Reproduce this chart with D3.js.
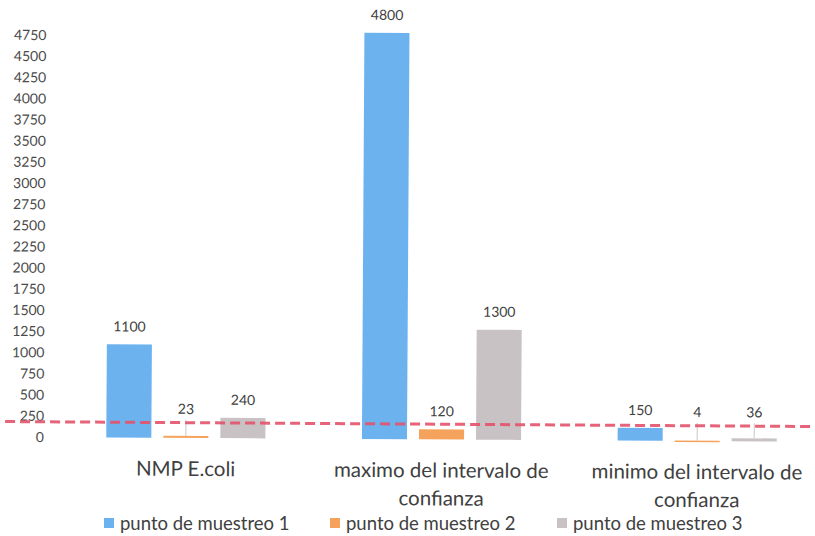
<!DOCTYPE html>
<html>
<head>
<meta charset="utf-8">
<script src="https://cdn.jsdelivr.net/npm/d3@7"></script>
<style>
  html, body { margin: 0; padding: 0; background: #fff; }
  svg { display: block; font-family: Lato, "Open Sans", sans-serif; }
</style>
</head>
<body>
<svg id="chart" width="815" height="536"></svg>
<script>
// Categories, series and values
const categories = ["NMP E.coli", "maximo del intervalo de confianza", "minimo del intervalo de confianza"];
const series = ["punto de muestreo 1", "punto de muestreo 2", "punto de muestreo 3"];
const muestreo1 = [1100, 4800, 150];
const muestreo2 = [23, 120, 4];
const muestreo3 = [240, 1300, 36];
const yTicks = [0, 250, 500, 750, 1000, 1250, 1500, 1750, 2000, 2250, 2500, 2750, 3000, 3250, 3500, 3750, 4000, 4250, 4500, 4750];
const limite = 180;   // reference threshold (dashed line)

const colors = ["#6cb2ef", "#f5a35c", "#c9c2c4"];
const valuesBySeries = [muestreo1, muestreo2, muestreo3];

const svg = d3.select("#chart");
const W = 815, H = 536;

// plot is slightly tilted
const plot = svg.append("g").attr("transform", "rotate(0.35, 40, 437)");

const x = d3.scaleBand().domain(categories).range([58, 825]).paddingInner(0).paddingOuter(0);
const bw = x.bandwidth();
const xs = d3.scaleBand().domain(series).range([42.3, bw - 42.3]).paddingInner(0.21).paddingOuter(0.105);
const y = d3.scaleLinear().domain([0, 4750]).range([437, 35]);

// y axis (labels only)
const yAxis = d3.axisLeft(y).tickValues(yTicks).tickSize(0).tickPadding(0).tickFormat(d3.format("d"));
const ya = plot.append("g").attr("transform", "translate(44,0)").call(yAxis);
ya.select(".domain").remove();
ya.selectAll("text").attr("fill", "#4a4a4a").style("font-size", "14px").style("font-family", "Lato, sans-serif");

// bars
const rows = [];
categories.forEach((c, i) => {
  series.forEach((s, j) => rows.push({ cat: c, ser: s, j, v: valuesBySeries[j][i] }));
});

plot.selectAll("rect.bar").data(rows).join("rect")
  .attr("class", "bar")
  .attr("x", d => x(d.cat) + xs(d.ser))
  .attr("width", xs.bandwidth())
  .attr("y", d => y(d.v))
  .attr("height", d => Math.max(1.5, y(0) - y(d.v)))
  .attr("fill", d => colors[d.j]);

// data labels; small values get a lifted label with a leader line
const labelY = d => d.v < 100 ? y(0) - 24 : y(d.v) - 13;
plot.selectAll("line.leader").data(rows.filter(d => d.v < 100)).join("line")
  .attr("class", "leader")
  .attr("x1", d => x(d.cat) + xs(d.ser) + xs.bandwidth() / 2)
  .attr("x2", d => x(d.cat) + xs(d.ser) + xs.bandwidth() / 2)
  .attr("y1", d => labelY(d) + 6)
  .attr("y2", d => y(d.v))
  .attr("stroke", "#bbb").attr("stroke-width", 0.8);

plot.selectAll("text.lbl").data(rows).join("text")
  .attr("class", "lbl")
  .attr("x", d => x(d.cat) + xs(d.ser) + xs.bandwidth() / 2)
  .attr("y", d => labelY(d))
  .attr("text-anchor", "middle")
  .attr("fill", "#404040")
  .style("font-size", "14px")
  .text(d => d.v);

// threshold line
plot.append("line")
  .attr("x1", -10).attr("x2", W + 10)
  .attr("y1", y(limite)).attr("y2", y(limite))
  .attr("stroke", "#e4536b").attr("stroke-width", 3)
  .attr("stroke-dasharray", "10,5")
  .attr("opacity", 0.9);

// category labels, wrapped to two lines when long
const catFont = 20.5;
function wrapWords(text, maxW, fontSize) {
  const tmp = svg.append("text").style("font-size", fontSize + "px");
  const words = text.split(" ");
  const lines = [];
  let line = [];
  words.forEach(w => {
    line.push(w);
    tmp.text(line.join(" "));
    if (tmp.node().getComputedTextLength() > maxW && line.length > 1) {
      line.pop();
      lines.push(line.join(" "));
      line = [w];
    }
  });
  lines.push(line.join(" "));
  tmp.remove();
  return lines;
}

categories.forEach(c => {
  const lines = wrapWords(c, 235, catFont);
  const t = plot.append("text")
    .attr("text-anchor", "middle")
    .attr("fill", "#404040")
    .style("font-size", catFont + "px");
  lines.forEach((ln, k) => {
    t.append("tspan")
      .attr("x", x(c) + bw / 2)
      .attr("y", 475 + k * 28)
      .text(ln);
  });
});

// legend
const legendX = [104, 330, 557];
const lg = svg.selectAll("g.leg").data(series).join("g")
  .attr("class", "leg")
  .attr("transform", (d, i) => `translate(${legendX[i]},524)`);
lg.append("rect").attr("x", 0).attr("y", -6).attr("width", 10).attr("height", 10)
  .attr("fill", (d, i) => colors[i]);
lg.append("text").attr("x", 16).attr("y", 6)
  .attr("fill", "#404040")
  .style("font-size", "18.5px")
  .text(d => d);
</script>
</body>
</html>
